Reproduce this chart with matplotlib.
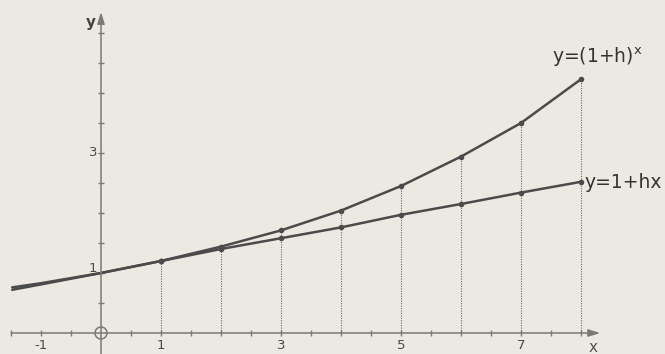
import matplotlib
matplotlib.use("Agg")
from matplotlib import pyplot as plt
from matplotlib.patches import Circle

# values
xs = [-1.48, -1, 0, 1, 2, 3, 4, 5, 6, 7, 8]
y_pow = [0.76, 0.83, 1.0, 1.2, 1.44, 1.71, 2.04, 2.45, 2.94, 3.5, 4.23]   # y=(1+h)^x
y_lin = [0.72, 0.81, 1.0, 1.2, 1.40, 1.58, 1.76, 1.97, 2.15, 2.34, 2.52]  # y=1+hx
x_marks = [1, 2, 3, 4, 5, 6, 7, 8]
x_labels = [-1, 1, 3, 5, 7]
y_labels = [1, 3]

bg = '#ebe9e1'
ink = '#4b4b4b'
axc = '#7a7a78'

fig = plt.figure(figsize=(6.65, 3.54), dpi=100, facecolor=bg)
ax = fig.add_axes([0, 0, 1, 1])
ax.set_facecolor(bg)
ax.set_xlim(-101/60, 564/60)
ax.set_ylim(-21/60, 333/60)
ax.axis('off')

# axes with arrows
ax.annotate('', xy=(8.32, 0), xytext=(-1.5, 0),
            arrowprops=dict(arrowstyle='-|>,head_length=0.7,head_width=0.22', color=axc, lw=1.1, shrinkA=0, shrinkB=0))
ax.annotate('', xy=(0, 5.35), xytext=(0, -0.4),
            arrowprops=dict(arrowstyle='-|>,head_length=0.7,head_width=0.22', color=axc, lw=1.1, shrinkA=0, shrinkB=0))

# tick marks every half unit
xt = [i / 2 for i in range(-3, 17) if i != 0]
yt = [i / 2 for i in range(1, 11)]
ax.plot(xt, [0] * len(xt), ls='none', marker='|', ms=4, mew=1, color=axc)
ax.plot([0] * len(yt), yt, ls='none', marker='_', ms=4, mew=1, color=axc)

for v in x_labels:
    ax.text(v, -0.1, str(v), ha='center', va='top', fontsize=9.5, color='#4a4a4a')
for v in y_labels:
    ax.text(-0.06, v + (0.08 if v == 1 else 0.0), str(v), ha='right', va='center', fontsize=9.5, color='#4a4a4a')
ax.text(-0.08, 5.18, 'y', ha='right', va='center', fontsize=11, color='#444444', fontweight='bold')
ax.text(8.2, -0.12, 'x', ha='center', va='top', fontsize=11, color='#555555')

# origin circle
ax.add_patch(Circle((0, 0), 0.1, fill=False, ec=axc, lw=1.1))

# dotted verticals up to the upper curve
for i, x in enumerate(xs):
    if x in x_marks:
        ax.plot([x, x], [0, y_pow[i]], ls=(0, (1, 1.2)), lw=0.8, color='#6a6a6a')

ax.plot(xs, y_lin, color=ink, lw=1.8, solid_capstyle='round')
ax.plot(xs, y_pow, color=ink, lw=1.8, solid_capstyle='round')
mx = [x for x in xs if x in x_marks]
ax.plot(mx, [y for x, y in zip(xs, y_pow) if x in x_marks], ls='none', marker='o', ms=3, color=ink)
ax.plot(mx, [y for x, y in zip(xs, y_lin) if x in x_marks], ls='none', marker='o', ms=3, color=ink)

ax.text(7.52, 4.5, r'y=(1+h)$^{\mathregular{x}}$', fontsize=13.5, color='#333333', va='baseline')
ax.text(8.05, 2.5, 'y=1+hx', fontsize=13.5, color='#333333', va='center')

fig.savefig('out.png', dpi=100, facecolor=bg)
